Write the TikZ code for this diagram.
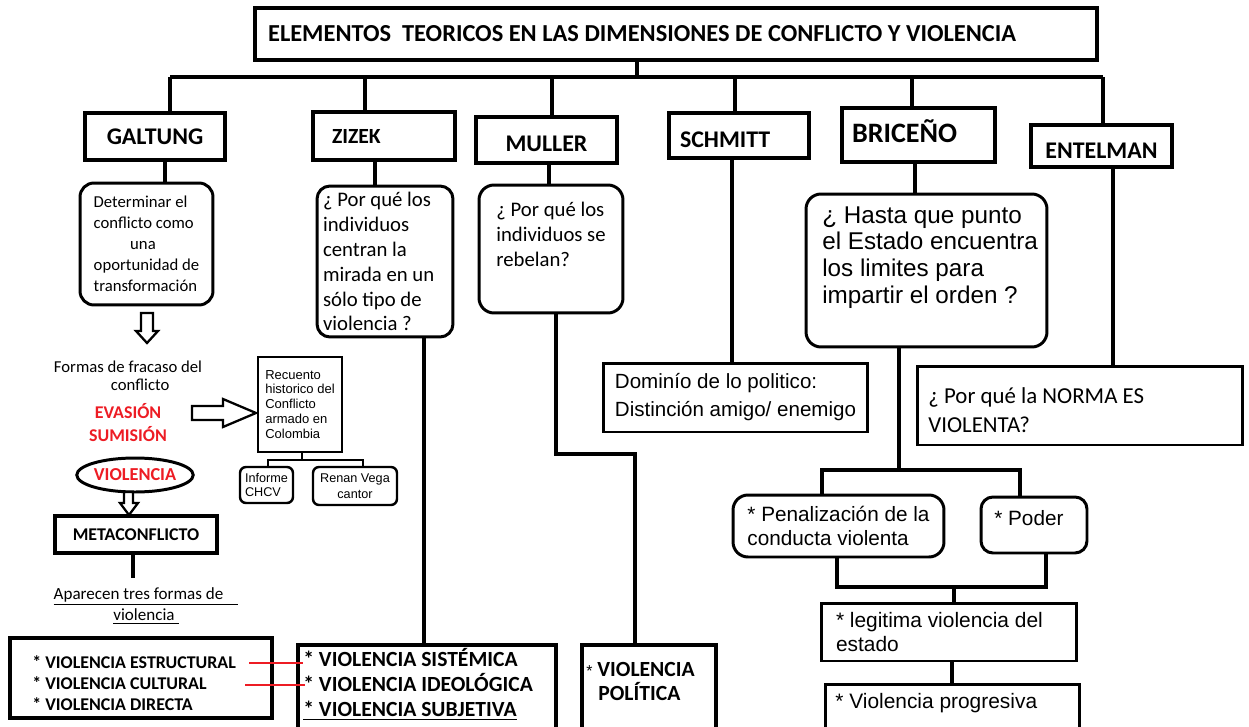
\documentclass[tikz,border=0pt]{standalone}
\usepackage{fontspec}
\setmainfont{Carlito}
\newfontfamily\arialf{Liberation Sans}
\usetikzlibrary{shapes.geometric}
\usetikzlibrary{positioning}
\usepackage{xcolor}
\newcommand\fsz[2]{\fontsize{#1}{#2}\selectfont}
\definecolor{evared}{RGB}{237,28,36}

\begin{document}
\begin{tikzpicture}[x=0.02cm,y=-0.02cm,
  heavy/.style={line width=2.5pt},
  link/.style={line width=1.9pt},
  headbox/.style={draw,heavy,inner sep=0pt,align=flush left,font=\bfseries\fsz{13.6pt}{16pt}},
  qbox/.style={draw,line width=1.7pt,rounded corners=0.28cm,inner sep=0pt,align=flush left},
  plainbox/.style={draw,line width=1.7pt,inner sep=0pt,align=flush left},
  boldbox/.style={draw,heavy,inner sep=0pt,align=flush left},
  txt/.style={inner sep=0pt,align=flush left,anchor=north west},
  hollow/.style={draw,line width=1.3pt,fill=white,line join=miter},
]
\useasboundingbox (0,0) rectangle (1249,727);

% title and the bar under it
\node[boldbox, minimum width=16.84cm, minimum height=1.04cm, text width=16.32cm, inner xsep=0.26cm,
  font=\bfseries\fsz{13.9pt}{16pt}] (title) at (676,34) {ELEMENTOS\ \ TEORICOS EN LAS DIMENSIONES DE CONFLICTO Y VIOLENCIA};
\coordinate (hub) at (637,77);
\coordinate (busl) at (170,77);
\coordinate (busr) at (1103,77);

% authors
\node[headbox, minimum width=2.8cm, minimum height=0.94cm, align=center] (galtung) at (155,136.5) {GALTUNG};
\node[headbox, minimum width=2.84cm, minimum height=0.96cm, text width=2.08cm, inner xsep=0.38cm,
  font=\bfseries\fsz{12.3pt}{14pt}] (zizek) at (384,136) {ZIZEK};
\node[headbox, minimum width=2.82cm, minimum height=0.92cm, align=center, text height=0.55cm, text depth=0.08cm] (muller) at (546.5,140) {MULLER};
\node[headbox, minimum width=2.8cm, minimum height=0.9cm, text width=2.36cm, inner xsep=0.22cm,
  text height=0.55cm, text depth=0.06cm] (schmitt) at (739,135.5) {SCHMITT};
\node[headbox, minimum width=3.06cm, minimum height=1.08cm, text width=2.66cm, inner xsep=0.2cm,
  text height=0.4cm, text depth=0.12cm, font=\bfseries\fsz{16pt}{18pt}] (briceno) at (918.5,135) {BRICEÑO};
\node[headbox, minimum width=2.82cm, minimum height=0.84cm, align=center, text height=0.55cm, text depth=0.04cm] (entelman) at (1101.5,146) {ENTELMAN};

\draw[heavy] (busl) -- (busr);
\draw[link] (title.south -| hub) -- (hub);
\draw[link] (busl) -- (galtung.north -| busl);
\draw[link] (hub -| 365,0) -- (zizek.north -| 365,0);
\draw[link] (hub -| 552,0) -- (muller.north -| 552,0);
\draw[link] (hub -| 735,0) -- (schmitt.north -| 735,0);
\draw[link] (hub -| 912,0) -- (briceno.north -| 912,0);
\draw[link] (busr) -- (entelman.north -| busr);

% Galtung
\node[qbox, minimum width=2.66cm, minimum height=2.44cm, font=\fsz{9.5pt}{11.95pt}] (galtq) at (146.5,244)
  {Determinar el\\conflicto como\\\hspace*{0.73cm}una\\oportunidad de\\transformación};
\draw[link] (galtung.south -| 165,0) -- (galtq.north -| 165,0);
\draw[hollow] (141,313) -- (153,313) -- (153,331) -- (158,331) -- (147,343) -- (136,331) -- (141,331) -- cycle;
\node[inner sep=0pt, align=flush left, font=\fsz{9.5pt}{10pt}] (fracaso) at (128,376)
  {Formas de fracaso del\\\hspace*{1.14cm}conflicto};
\node[inner sep=0pt, align=center, text=evared, font=\bfseries\fsz{10.2pt}{13.1pt}] (evasion) at (128,423) {EVASIÓN\\SUMISIÓN};
\draw[hollow] (192,406) -- (223,406) -- (223,399) -- (256,413) -- (223,427) -- (223,420) -- (192,420) -- cycle;
\node[plainbox, line width=1.4pt, minimum width=1.68cm, minimum height=1.9cm, font=\arialf\fsz{7.4pt}{8.5pt}] (recuento) at (300,404.5)
  {Recuento\\historico del\\Conflicto\\armado en\\Colombia};
\node[qbox, line width=1.4pt, rounded corners=0.12cm, minimum width=1.06cm, minimum height=0.72cm,
  font=\arialf\fsz{7.2pt}{8pt}] (informe) at (266.5,485) {Informe\\CHCV};
\node[qbox, line width=1.4pt, rounded corners=0.12cm, minimum width=1.68cm, minimum height=0.76cm, align=center,
  font=\arialf\fsz{7.2pt}{9pt}] (renan) at (355,486) {Renan Vega\\cantor};
\draw[link, line width=1.4pt] (recuento.south -| 302,0) -- (302,460);
\draw[link, line width=1.4pt] (informe.north -| 268,0) -- (268,460) -- (363,460) -- (renan.north -| 363,0);
\node[ellipse, draw, line width=1.7pt, minimum width=2.28cm, minimum height=0.68cm, inner sep=0pt, text=evared,
  font=\bfseries\fsz{10.4pt}{12pt}] (violencia) at (135,475) {VIOLENCIA};
\draw[hollow] (124,492) -- (133,492) -- (133,503) -- (138,503) -- (129,515) -- (120,503) -- (124,503) -- cycle;
\node[boldbox, minimum width=3.24cm, minimum height=0.74cm, align=center, font=\bfseries\fsz{10.2pt}{12pt}] (metac) at (136,534.5) {METACONFLICTO};
\coordinate (metaend) at (133,578);
\draw[link] (metac.south -| metaend) -- (metaend);
\node[inner sep=0pt, align=center, font=\fsz{9.7pt}{12pt}] (aparecen) at (146,606)
  {\underline{Aparecen tres formas de\hspace*{0.3cm}}\\\underline{violencia\hspace*{0.08cm}}};
\node[boldbox, minimum width=5.24cm, minimum height=1.6cm] (estruct) at (141,678) {};
\node[txt, font=\bfseries\fsz{10.2pt}{12pt}] (estructt) at (32,655)
  {* VIOLENCIA ESTRUCTURAL\\{}* VIOLENCIA CULTURAL\\{}* VIOLENCIA DIRECTA};

% Zizek
\node[qbox, rounded corners=0.26cm, minimum width=2.72cm, minimum height=3.02cm, text width=2.48cm,
  font=\fsz{11.8pt}{14.2pt}] (zizekq) at (385,261.5)
  {¿ Por qué los\\individuos\\centran la\\mirada en un\\sólo tipo de\\violencia ?};
\node[boldbox, minimum width=5.16cm, minimum height=2.9cm] (sistem) at (427,717.5) {};
\node[txt, font=\bfseries\fsz{12.3pt}{14.2pt}] (sistemt) at (303,648)
  {* VIOLENCIA SISTÉMICA\\{}* VIOLENCIA IDEOLÓGICA\\\underline{* VIOLENCIA SUBJETIVA}};
\draw[link] (zizek.south -| 375,0) -- (zizekq.north -| 375,0);
\draw[link] (zizekq.south -| 424,0) -- (sistem.north -| 424,0);
\coordinate (rojo1a) at (249,663);
\coordinate (rojo1b) at (303,663);
\coordinate (rojo2a) at (245,685);
\coordinate (rojo2b) at (305,685);
\draw[evared, line width=1.7pt] (rojo1a) -- (rojo1b);
\draw[evared, line width=1.7pt] (rojo2a) -- (rojo2b);

% Muller
\node[qbox, rounded corners=0.3cm, minimum width=2.88cm, minimum height=2.56cm] (mullerq) at (551,249) {};
\node[txt, font=\fsz{11.8pt}{14.2pt}] (mullerqt) at (496,202) {¿ Por qué los\\individuos se\\rebelan?};
\node[boldbox, minimum width=2.68cm, minimum height=2.9cm] (polit) at (649,717.5) {};
\node[txt, font=\bfseries\fsz{12.3pt}{13.7pt}] (politt) at (586,662)
  {{\arialf\mdseries\fsz{9pt}{10pt}*} VIOLENCIA\\\hspace*{0.24cm}POLÍTICA};
\draw[link] (muller.south -| 549,0) -- (mullerq.north -| 549,0);
\draw[link] (mullerq.south -| 556,0) -- (556,454) -- (635,454) -- (polit.north -| 635,0);

% Schmitt
\node[plainbox, minimum width=5.3cm, minimum height=1.38cm, font=\arialf\fsz{11.7pt}{15.9pt}] (dominio) at (735.5,397.5)
  {Dominío de lo politico:\\Distinción amigo/ enemigo};
\draw[link] (schmitt.south -| 732,0) -- (dominio.north -| 732,0);

% Briceño
\node[qbox, rounded corners=0.3cm, minimum width=4.82cm, minimum height=3.06cm] (briceq) at (926.5,270.5) {};
\node[txt, font=\arialf\fsz{13.8pt}{15.2pt}] (briceqt) at (822,206)
  {¿ Hasta que punto\\el Estado encuentra\\los limites para\\impartir el orden ?};
\draw[link] (briceno.south -| 915,0) -- (briceq.north -| 915,0);
\node[qbox, rounded corners=0.3cm, minimum width=4.22cm, minimum height=1.24cm, font=\arialf\fsz{11.8pt}{13.7pt}] (penal) at (838.5,526)
  {* Penalización de la\\conducta violenta};
\node[qbox, rounded corners=0.24cm, minimum width=2.12cm, minimum height=1.12cm] (poder) at (1034,525) {};
\node[txt, font=\arialf\fsz{11.8pt}{13.7pt}] (podert) at (994,510) {* Poder};
\draw[link] (briceq.south -| 899,0) -- (899,470);
\draw[link] (penal.north -| 822,0) -- (822,470) -- (1020,470) -- (poder.north -| 1020,0);
\node[plainbox, minimum width=5.12cm, minimum height=1.16cm, text width=4.52cm, font=\arialf\fsz{11.9pt}{13.7pt}] (legit) at (949,632)
  {* legitima violencia del\\estado};
\draw[link] (penal.south -| 837,0) -- (837,587) -- (1046,587) -- (poder.south -| 1046,0);
\draw[link] (954,587) -- (legit.north -| 954,0);
\node[plainbox, minimum width=5.1cm, minimum height=2.12cm] (progr) at (952.5,737) {};
\node[txt, font=\arialf\fsz{11.9pt}{13.7pt}] (progrt) at (835,693) {* Violencia progresiva};
\draw[link] (legit.south -| 952,0) -- (progr.north -| 952,0);

% Entelman
\node[plainbox, minimum width=6.52cm, minimum height=1.58cm] (entelq) at (1080,405.5) {};
\node[txt, font=\fsz{13pt}{16.5pt}] (entelqt) at (928,387) {¿ Por qué la NORMA ES\\VIOLENTA?};
\draw[link] (entelman.south -| 1113,0) -- (entelq.north -| 1113,0);
\end{tikzpicture}
\end{document}
